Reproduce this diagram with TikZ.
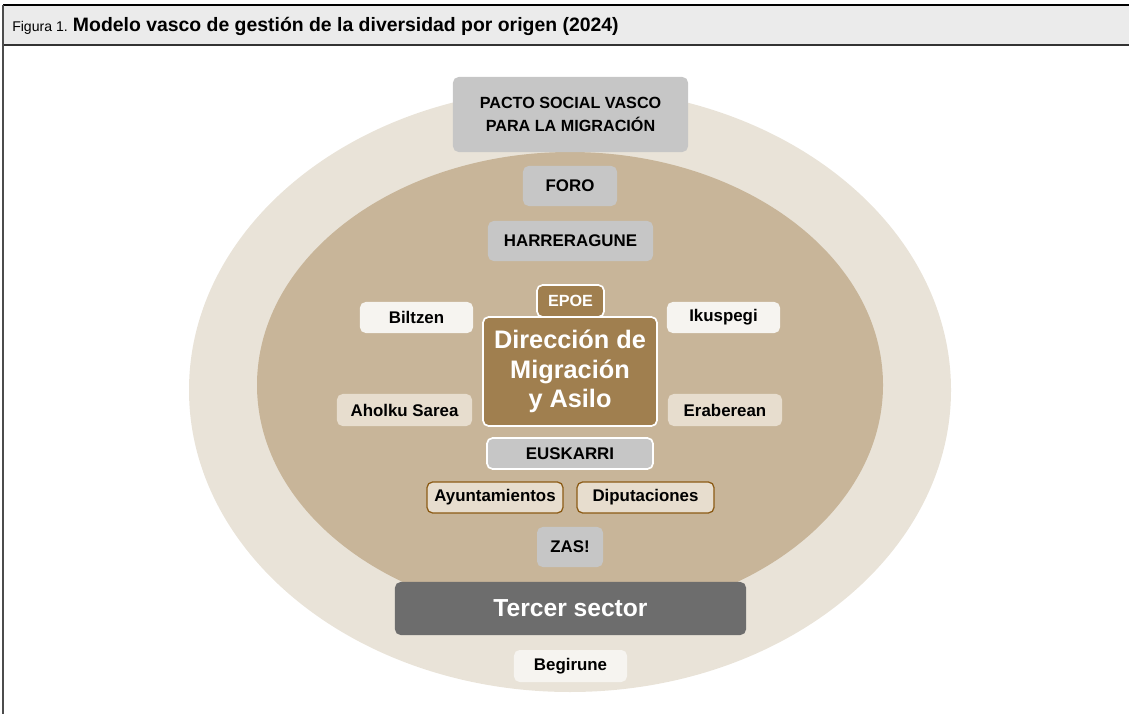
\documentclass[tikz,border=0pt]{standalone}
\usepackage{fontspec}
\setmainfont{Liberation Sans}
\usetikzlibrary{positioning}
\definecolor{outerring}{HTML}{E9E3D8}
\definecolor{innerring}{HTML}{C8B599}
\definecolor{boxgrey}{HTML}{C6C6C6}
\definecolor{dirbrown}{HTML}{A07F4F}
\definecolor{cream}{HTML}{F6F4F0}
\definecolor{beige}{HTML}{E7DDCE}
\definecolor{brownline}{HTML}{8B5A14}
\definecolor{darkgrey}{HTML}{6D6D6D}
\definecolor{headgrey}{HTML}{EBEBEB}
\tikzset{
    label box/.style={rounded corners=4pt, inner sep=0pt, align=center, text=black,
        font=\bfseries\fontsize{12}{16.5}\selectfont},
    grey box/.style={label box, fill=boxgrey},
    cream box/.style={label box, fill=cream},
    beige box/.style={label box, fill=beige},
    town box/.style={label box, fill=beige, draw=brownline, line width=0.9pt},
    white rim/.style={draw=white, line width=1.2pt}
}

\begin{document}
\begin{tikzpicture}[x=0.025cm, y=-0.025cm]
    \useasboundingbox (0,0) rectangle (1129,714);

    % header band
    \fill [headgrey] (3,5) rectangle (1129,45);
    \draw [black, line width=0.8pt] (3,5) -- (1129,5);
    \draw [black!80, line width=0.8pt] (3,45) -- (1129,45);
    \draw [black!70, line width=1.2pt] (3,5) -- (3,714);
    \node [anchor=west, inner sep=0pt] (title) at (12,26)
        {{\fontsize{10}{12}\selectfont Figura 1.} {\bfseries\fontsize{13.8}{15}\selectfont Modelo vasco de gestión de la diversidad por origen (2024)}};

    % rings
    \fill [outerring] (570,390) ellipse [x radius=381, y radius=302];
    \fill [innerring] (570,385) ellipse [x radius=313, y radius=233];

    % boxes
    \node [grey box, minimum width=5.875cm, minimum height=1.875cm,
        font=\bfseries\fontsize{11.5}{16.5}\selectfont] (pacto) at (570.5,114.5) {PACTO SOCIAL VASCO\\PARA LA MIGRACIÓN};
    \node [grey box, minimum width=2.35cm, minimum height=1cm] (foro) at (570,186) {FORO};
    \node [grey box, minimum width=4.125cm, minimum height=1cm] (harreragune) at (570.5,241) {HARRERAGUNE};

    \node [label box, fill=dirbrown, white rim, text=white, minimum width=4.35cm, minimum height=2.725cm,
        font=\bfseries\fontsize{18}{21}\selectfont] (direccion) at (570,371.5) {Dirección de\\Migración\\y Asilo};
    \node [label box, fill=dirbrown, white rim, text=white, minimum width=1.675cm, minimum height=0.8cm,
        font=\bfseries\fontsize{11.5}{13}\selectfont] (epoe) at (570.5,301) {EPOE};

    \node [cream box, minimum width=2.825cm, minimum height=0.775cm] (biltzen) at (416.5,317.5) {Biltzen};
    \node [cream box, minimum width=2.825cm, minimum height=0.775cm] (ikuspegi) at (723.5,317.5) {Ikuspegi};
    \node [beige box, minimum width=3.375cm, minimum height=0.8cm] (aholku) at (404.5,410) {Aholku Sarea};
    \node [beige box, minimum width=2.85cm, minimum height=0.8cm] (eraberean) at (725,410) {Eraberean};

    \node [grey box, white rim, minimum width=4.15cm, minimum height=0.775cm] (euskarri) at (570,453.5) {EUSKARRI};
    \node [town box, minimum width=3.4cm, minimum height=0.775cm] (ayuntamientos) at (495,497.5) {Ayuntamientos};
    \node [town box, minimum width=3.425cm, minimum height=0.775cm] (diputaciones) at (645.5,497.5) {Diputaciones};
    \node [grey box, minimum width=1.65cm, minimum height=1cm] (zas) at (570,547) {ZAS!};

    \node [label box, fill=darkgrey, text=white, minimum width=8.775cm, minimum height=1.325cm,
        font=\bfseries\fontsize{17.5}{20}\selectfont] (tercer) at (570.5,608.5) {Tercer sector};
    \node [cream box, minimum width=2.825cm, minimum height=0.8cm] (begirune) at (570.5,666) {Begirune};
\end{tikzpicture}
\end{document}
